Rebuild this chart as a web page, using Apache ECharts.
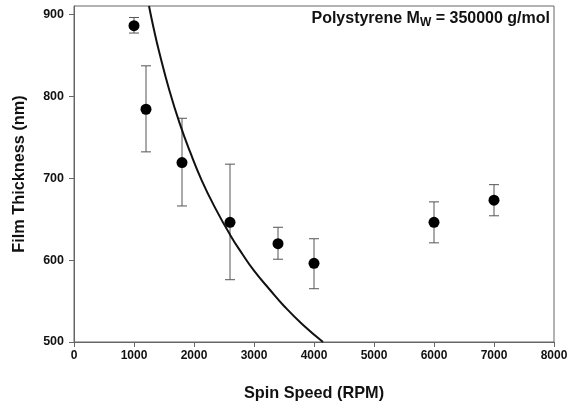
<!DOCTYPE html>
<html>
<head>
<meta charset="utf-8">
<script src="https://cdn.jsdelivr.net/npm/echarts@6/dist/echarts.min.js"></script>
<style>
  html, body { margin: 0; padding: 0; background: #fff; }
  #main { width: 569px; height: 404px; }
</style>
</head>
<body>
<div id="main"></div>
<script>
// measured points
var speeds = [1000, 1200, 1800, 2600, 3400, 4000, 6000, 7000];
var thickness = [886, 784, 719, 646, 620, 596, 646, 673];
var errLow = [877, 732, 666, 576, 601, 565, 621, 654];
var errHigh = [896, 837, 773, 717, 640, 626, 671, 692];

// fit curve
var fitSpeeds = [1250, 1330, 1420, 1590, 1760, 1940, 2130, 2350, 2600, 2800, 3000, 3250, 3500, 3800, 4150];
var fitThickness = [910, 882, 854, 807, 767, 731, 697, 664, 631, 608, 587, 565, 544, 522, 500];

var xTicks = [0, 1000, 2000, 3000, 4000, 5000, 6000, 7000, 8000];
var yTicks = [500, 600, 700, 800, 900];

var chart = echarts.init(document.getElementById('main'));

var pts = speeds.map(function (s, i) { return [s, thickness[i]]; });
var bars = speeds.map(function (s, i) { return [s, errLow[i], errHigh[i]]; });
var fit = fitSpeeds.map(function (s, i) { return [s, fitThickness[i]]; });

var font = 'Liberation Sans, Arial, sans-serif';

var option = {
    animation: false,
    backgroundColor: '#fff',
    grid: {
        left: 74, right: 15, top: 6, bottom: 62,
        outerBoundsMode: 'none',
        show: true,
        borderColor: '#666',
        borderWidth: 1
    },
    xAxis: {
        type: 'value',
        min: xTicks[0],
        max: xTicks[xTicks.length - 1],
        interval: 1000,
        name: 'Spin Speed (RPM)',
        nameLocation: 'middle',
        nameGap: 44,
        nameTextStyle: { fontFamily: font, fontWeight: 'bold', fontSize: 16.3, color: '#111' },
        axisLine: { lineStyle: { color: '#666', width: 1 } },
        axisTick: { show: true, length: 5, lineStyle: { color: '#666' } },
        axisLabel: {
            fontFamily: font, fontWeight: 'bold', fontSize: 12, color: '#111', margin: 8,
            formatter: function (v) { return String(v); }
        },
        splitLine: { show: false }
    },
    yAxis: {
        type: 'value',
        min: yTicks[0],
        max: 910,
        interval: 100,
        name: 'Film Thickness (nm)',
        nameLocation: 'middle',
        nameGap: 46,
        nameTextStyle: { fontFamily: font, fontWeight: 'bold', fontSize: 16.3, color: '#111' },
        axisLine: { lineStyle: { color: '#666', width: 1 } },
        axisTick: { show: true, length: 5, lineStyle: { color: '#666' } },
        axisLabel: {
            fontFamily: font, fontWeight: 'bold', fontSize: 12.5, color: '#111', margin: 10,
            showMaxLabel: false
        },
        splitLine: { show: false }
    },
    graphic: [{
        type: 'text',
        right: 19,
        top: 8,
        style: {
            text: '{b|Polystyrene M}{s|W}{b| = 350000 g/mol}',
            rich: {
                b: { fontFamily: font, fontWeight: 'bold', fontSize: 16, fill: '#111', lineHeight: 20 },
                s: { fontFamily: font, fontWeight: 'bold', fontSize: 12, fill: '#111', padding: [9, 0, 0, 0], lineHeight: 20 }
            }
        }
    }],
    series: [
        {
            type: 'custom',
            z: 2,
            data: bars,
            renderItem: function (params, api) {
                var x = api.value(0);
                var lo = api.coord([x, api.value(1)]);
                var hi = api.coord([x, api.value(2)]);
                var cw = 5;
                var st = { stroke: '#555', lineWidth: 1 };
                return {
                    type: 'group',
                    children: [
                        { type: 'line', shape: { x1: lo[0], y1: lo[1], x2: hi[0], y2: hi[1] }, style: st },
                        { type: 'line', shape: { x1: hi[0] - cw, y1: hi[1], x2: hi[0] + cw, y2: hi[1] }, style: st },
                        { type: 'line', shape: { x1: lo[0] - cw, y1: lo[1], x2: lo[0] + cw, y2: lo[1] }, style: st }
                    ]
                };
            }
        },
        {
            type: 'line',
            data: fit,
            smooth: true,
            showSymbol: false,
            clip: true,
            z: 3,
            lineStyle: { color: '#111', width: 2 }
        },
        {
            type: 'scatter',
            data: pts,
            symbol: 'circle',
            symbolSize: 11,
            z: 4,
            itemStyle: { color: '#000', opacity: 1 }
        }
    ]
};

chart.setOption(option);
</script>
</body>
</html>
